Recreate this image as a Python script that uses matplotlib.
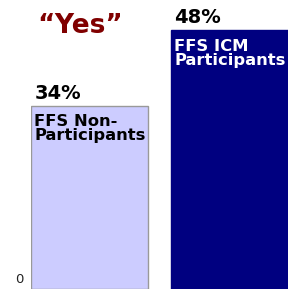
import matplotlib.pyplot as plt

groups = ['FFS Non-\nParticipants', 'FFS ICM\nParticipants']
values = [34, 48]
pct_labels = ['34%', '48%']
title = '\u201cYes\u201d'

plt.rcParams['font.family'] = ['DejaVu Sans']

fig = plt.figure(figsize=(2.93, 2.90), dpi=100)
ax = fig.add_axes([31 / 293, 1 / 290, 257 / 293, 289 / 290])

w = 0.836
x = [0, 1]
bars = ax.bar(x, values, width=w, color=['#ccccff', '#000080'],
              edgecolor=['#999999', '#000080'], linewidth=1)
ax.set_xlim(-w / 2, 1 + w / 2)
ax.set_ylim(0, 53.6)
ax.axis('off')

txt_colors = ['black', 'white']
for xi, v, lab, grp, tc in zip(x, values, pct_labels, groups, txt_colors):
    left = xi - w / 2
    ax.annotate(lab, (left, v), xytext=(2.5, 5), textcoords='offset points',
                ha='left', va='baseline', fontsize=14, fontweight='bold')
    ax.annotate(grp, (left, v), xytext=(2.5, -6), textcoords='offset points',
                ha='left', va='top', fontsize=11.8, fontweight='bold',
                color=tc, linespacing=0.95)

# lone zero tick label at the bottom left
ax.annotate('0', (0, 0), xycoords=('axes fraction', 'data'), xytext=(-5.5, 2),
            textcoords='offset points', ha='right', va='bottom', fontsize=9.5,
            color='#222222')

fig.text(37 / 293, 1 - 33 / 290, title, ha='left', va='baseline',
         fontsize=19, fontweight='bold', color='#800000')

fig.savefig('out.png', dpi=100)
